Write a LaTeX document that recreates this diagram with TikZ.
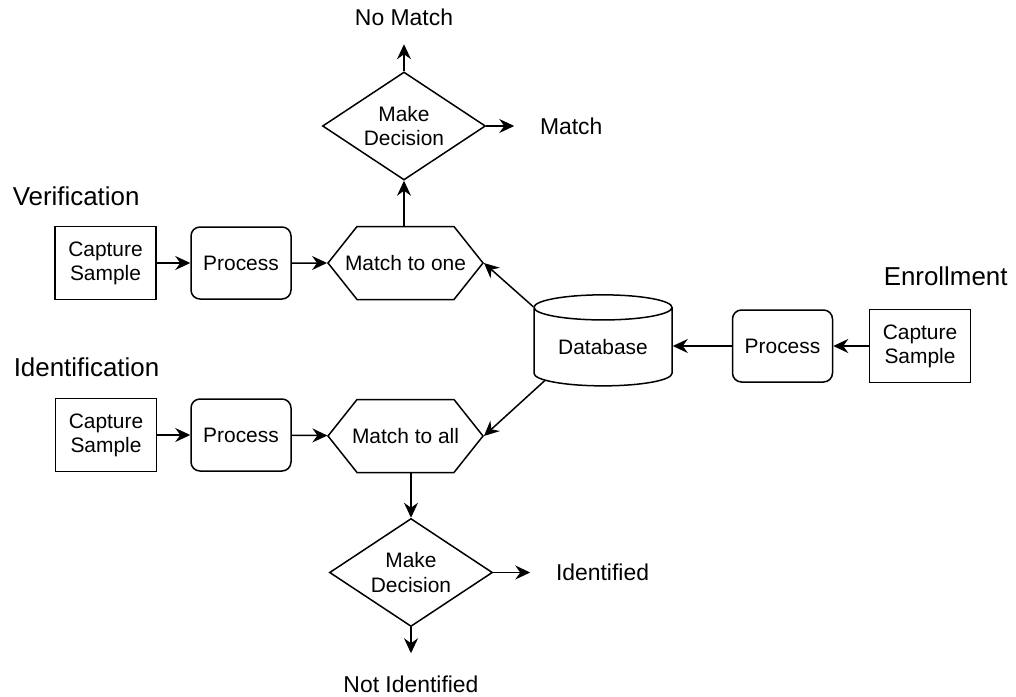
\documentclass[tikz,border=0pt]{standalone}
\usepackage{fontspec}
\setmainfont{Liberation Sans}
\usetikzlibrary{arrows.meta,shapes.geometric,shapes.symbols,positioning}
\tikzset{
  sample/.style={
    rectangle, draw, align=center, inner sep=0pt,
    minimum width=101bp, minimum height=73bp,
    font=\fontsize{21}{24}\selectfont,
  },
  proc/.style={
    sample, rounded corners=9bp,
    minimum width=100bp, minimum height=72bp,
  },
  hexa/.style={
    signal, signal to=west and east, signal pointer angle=103,
    draw, inner xsep=-16bp, inner ysep=0pt,
    minimum width=155bp, minimum height=73bp,
    font=\fontsize{21}{24}\selectfont,
  },
  decide/.style={
    diamond, draw, align=center, aspect=1.5, inner sep=0pt,
    minimum width=163bp, minimum height=108bp,
    font=\fontsize{21}{25}\selectfont,
  },
  store/.style={
    cylinder, shape border rotate=90, aspect=0.28, draw,
    minimum width=138bp, minimum height=91bp, inner sep=0pt,
    font=\fontsize{21}{24}\selectfont,
  },
  title/.style={anchor=west, inner sep=0pt, font=\fontsize{26}{30}\selectfont},
  outcome/.style={inner sep=0pt, font=\fontsize{23}{27}\selectfont},
  line/.style={
    draw, -{Stealth[length=15bp,width=14bp,inset=5bp]},
  }
}
\begin{document}
\begin{tikzpicture}[x=1bp,y=-1bp,line width=1.5bp]
\useasboundingbox (0,0) rectangle (1016,697);
% verification
\node [title] (ver) at (12,196) {Verification};
\node [sample] (capv) at (105.5,263) {Capture\\Sample};
\node [proc] (procv) at (241,263) {Process};
\node [hexa] (one) at (405.5,263) {Match to one};
\node [decide] (decv) at (404,126) {Make\\Decision};
\node [outcome, above=45bp of decv] (nomatch) {No Match};
\node [outcome, right=53bp of decv] (match) {Match};
% enrollment
\node [store] (db) at (603,347) {Database};
\node [proc] (proce) at (782.5,346) {Process};
\node [sample] (cape) at (920,346) {Capture\\Sample};
\node [title] (enr) at (883,276) {Enrollment};
% identification
\node [title] (ident) at (13,367) {Identification};
\node [sample] (capi) at (106,435) {Capture\\Sample};
\node [proc] (proci) at (241,435) {Process};
\node [hexa] (all) at (405.5,436) {Match to all};
\node [decide] (deci) at (411,572.5) {Make\\Decision};
\node [outcome, right=62bp of deci] (found) {Identified};
\node [outcome, below=48bp of deci] (notfound) {Not Identified};
\path [line] (capv) -- (procv);
\path [line] (procv) -- (one);
\path [line] (decv.south |- one.north) -- (decv.south);
\path [line, shorten >=18bp] (decv) -- (nomatch);
\path [line, shorten >=25bp] (decv) -- (match);
\path [line] (cape) -- (proce);
\path [line] (proce.west) -- (db.east |- proce.west);
\path [line] (db.150) -- (one.east);
\path [line] (db.210) -- (all.east);
\path [line] (capi) -- (proci);
\path [line] (proci) -- (all);
\path [line] (deci.north |- all.south) -- (deci.north);
\path [line, shorten >=25bp] (deci) -- (found);
\path [line, shorten >=22bp] (deci) -- (notfound);
\end{tikzpicture}
\end{document}
